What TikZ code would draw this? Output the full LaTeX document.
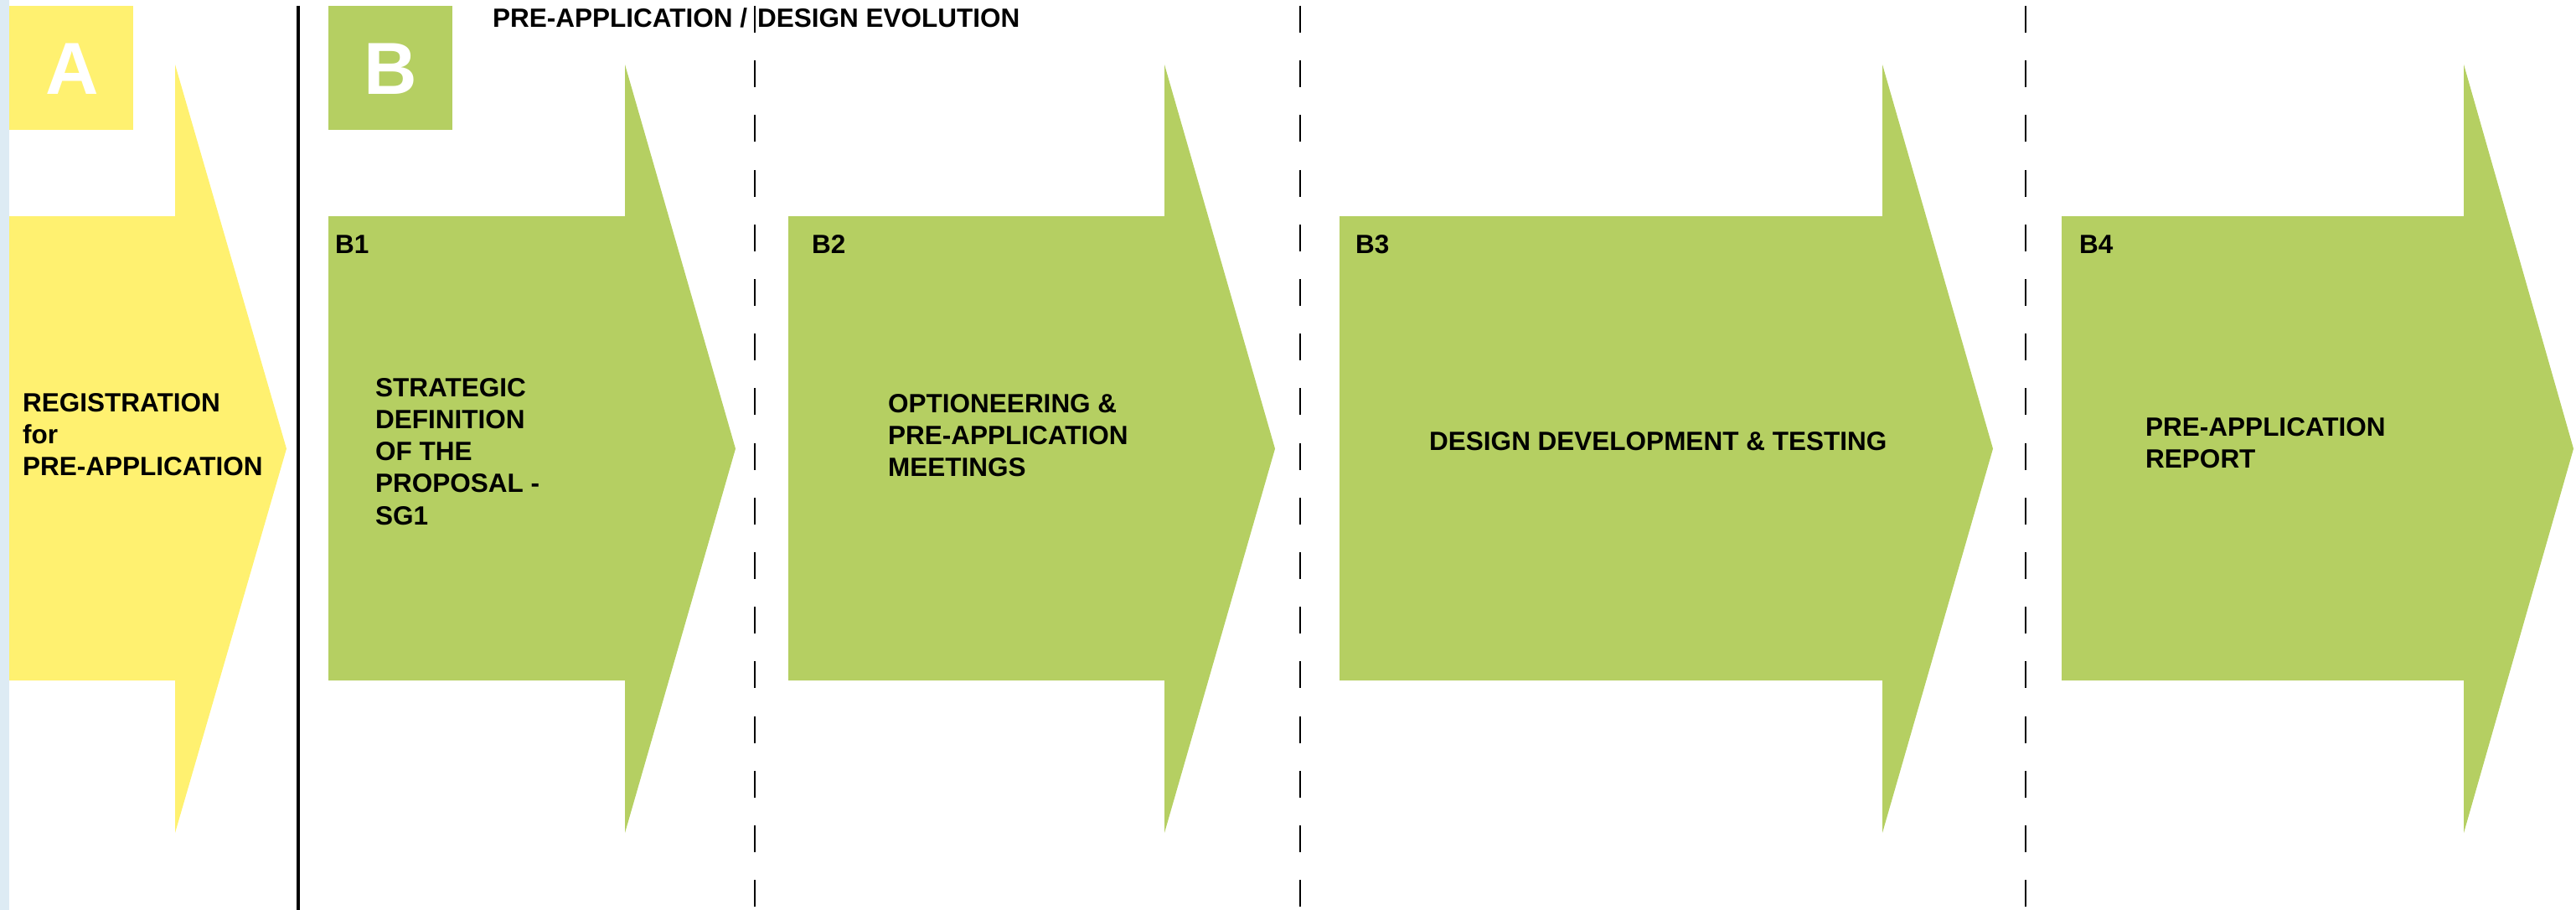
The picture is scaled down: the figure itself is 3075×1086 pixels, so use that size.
\documentclass[tikz,border=0pt]{standalone}
\usepackage{fontspec}
\setmainfont{Liberation Sans}
\definecolor{stripblue}{RGB}{221,235,244}
\definecolor{phaseyellow}{RGB}{255,241,112}
\definecolor{phasegreen}{RGB}{181,207,98}
\newcommand{\stagearrow}[4]{\fill[#4] (#1,258) -- (#2,258) -- (#2,77) -- (#3,535.5) -- (#2,994) -- (#2,812) -- (#1,812) -- cycle;}
\newcommand{\txtfont}{\fontsize{31.5}{38.3}\selectfont\bfseries}
\tikzset{
  lbl/.style={anchor=base west, inner sep=0pt, font=\txtfont, text=black},
  bigletter/.style={anchor=base, inner sep=0pt, font=\fontsize{88}{90}\selectfont\bfseries, text=white},
  phaseline/.style={line width=3.5pt, draw=black},
  sepline/.style={line width=2pt, draw=black, dash pattern=on 32pt off 33.2pt}
}
\begin{document}
\begin{tikzpicture}[x=1pt, y=-1pt]
\useasboundingbox (0,0) rectangle (3075,1086);
% left strip
\fill[stripblue] (0,0) rectangle (11,1086);
% arrows
\stagearrow{11}{209}{342}{phaseyellow}
\stagearrow{392}{746}{878}{phasegreen}
\stagearrow{941}{1390}{1522}{phasegreen}
\stagearrow{1599}{2247}{2379}{phasegreen}
\stagearrow{2461}{2941}{3072}{phasegreen}
% phase boxes
\fill[phaseyellow] (11,7) rectangle (159,155);
\fill[phasegreen] (392,7) rectangle (540,155);
\node[bigletter] (la) at (86,113) {A};
\node[bigletter] (lb) at (466,113) {B};
% lines
\coordinate (s0) at (356,7);
\coordinate (s1) at (356,1086);
\draw[phaseline] (s0) -- (s1);
\coordinate (d1t) at (901,7);
\coordinate (d1b) at (901,1086);
\coordinate (d2t) at (1552,7);
\coordinate (d2b) at (1552,1086);
\coordinate (d3t) at (2418,7);
\coordinate (d3b) at (2418,1086);
\draw[sepline] (d1t) -- (d1b);
\draw[sepline] (d2t) -- (d2b);
\draw[sepline] (d3t) -- (d3b);
% header
\node[lbl] (hdr) at (588,33) {PRE-APPLICATION /\hspace{12pt}DESIGN EVOLUTION};
% texts
\node[lbl] (ta) at (27,491) {\begin{tabular}[t]{@{}l@{}}REGISTRATION\\for\\PRE-APPLICATION\end{tabular}};
\node[lbl] (b1) at (400,302) {B1};
\node[lbl] (b2) at (969,302) {B2};
\node[lbl] (b3) at (1618,302) {B3};
\node[lbl] (b4) at (2482,302) {B4};
\node[lbl] (tb1) at (448,473) {\begin{tabular}[t]{@{}l@{}}STRATEGIC\\DEFINITION\\OF THE\\PROPOSAL -\\SG1\end{tabular}};
\node[lbl] (tb2) at (1060,492) {\begin{tabular}[t]{@{}l@{}}OPTIONEERING \&\\PRE-APPLICATION\\MEETINGS\end{tabular}};
\node[lbl] (tb3) at (1706,537) {DESIGN DEVELOPMENT \& TESTING};
\node[lbl] (tb4) at (2561,520) {\begin{tabular}[t]{@{}l@{}}PRE-APPLICATION\\REPORT\end{tabular}};
\end{tikzpicture}
\end{document}
